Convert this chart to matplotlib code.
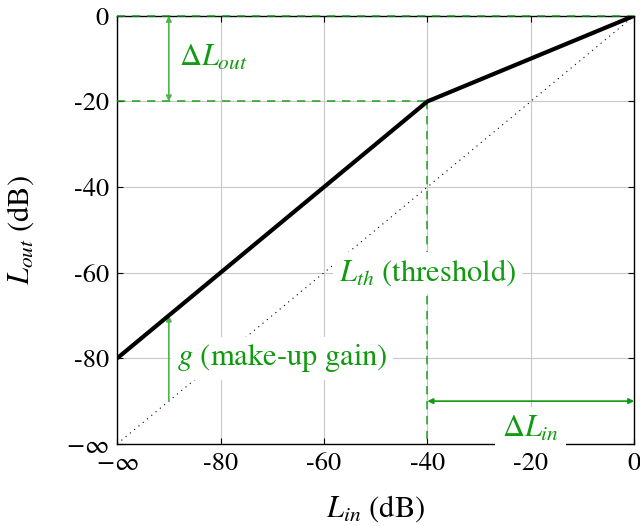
import matplotlib.pyplot as plt
import numpy as np

# transfer curve of the compressor (dB)
l_in = [-100, -40, 0]
l_out = [-80, -20, 0]
diag = [-100, 0]

threshold = -40
thr_out = -20
gain_at = -90          # x where the make-up gain arrow sits
delta_in_y = -90       # y of the ΔL_in arrow

xticks = [-100, -80, -60, -40, -20, 0]
xticklabels = [r'$-\infty$', '-80', '-60', '-40', '-20', '0']
yticks = [-100, -80, -60, -40, -20, 0]
yticklabels = [r'$-\infty$', '-80', '-60', '-40', '-20', '0']

green = '#109a10'
arrow_green = '#4cb84c'

plt.rcParams['font.family'] = ['STIXGeneral', 'DejaVu Serif']
plt.rcParams['mathtext.fontset'] = 'stix'

fig = plt.figure(figsize=(6.4, 5.26), dpi=100)
ax = fig.add_axes([0.183, 0.156, 0.808, 0.814])

ax.set_xlim(-100, 0)
ax.set_ylim(-100, 0)
ax.grid(color='#c8c8c8', linewidth=0.8)
ax.set_axisbelow(True)

# identity line and the curve
ax.plot(diag, diag, color='black', linestyle=(0, (1, 4)), linewidth=0.8)
ax.plot(l_in, l_out, color='black', linewidth=3, solid_capstyle='butt', zorder=4)

# dashed helper lines
dash = dict(color=green, linestyle=(0, (5, 4)), linewidth=1.2, alpha=0.85, zorder=3)
ax.plot([-100, 0], [0, 0], clip_on=False, **dash)
ax.plot([-100, threshold], [thr_out, thr_out], **dash)
ax.plot([threshold, threshold], [thr_out, -100], **dash)

# arrows
ax.annotate('', xy=(gain_at, thr_out), xytext=(gain_at, 0),
            arrowprops=dict(arrowstyle='<|-|>', color=arrow_green, lw=1.2,
                            mutation_scale=8, shrinkA=0, shrinkB=0))
ax.annotate('', xy=(gain_at, l_out[0] + (gain_at - l_in[0])), xytext=(gain_at, gain_at),
            arrowprops=dict(arrowstyle='-|>', color=arrow_green, lw=1.2,
                            mutation_scale=8, shrinkA=0, shrinkB=0))
ax.annotate('', xy=(threshold, delta_in_y), xytext=(0, delta_in_y),
            arrowprops=dict(arrowstyle='<|-|>', color=green, lw=1.2,
                            mutation_scale=8, shrinkA=0, shrinkB=0), annotation_clip=False)

# labels
fs = 22
box = dict(facecolor='white', edgecolor='none', pad=4)
ax.text(-88, -10, r'$\Delta L_{out}$', color=green, fontsize=fs,
        ha='left', va='center')
ax.text(threshold, -60, r'$L_{th}$ (threshold)', color=green, fontsize=fs,
        ha='center', va='center', bbox=box, zorder=6)
ax.text(-88.5, -80, r'$g$ (make-up gain)', color=green, fontsize=fs,
        ha='left', va='center', bbox=box, zorder=6)
ax.text(-20, -96.5, r'$\Delta L_{in}$', color=green, fontsize=fs,
        ha='center', va='center', bbox=dict(facecolor='white', edgecolor='none', pad=5),
        zorder=6, clip_on=False)

ax.set_xticks(xticks)
ax.set_xticklabels(xticklabels, fontsize=19)
ax.set_yticks(yticks)
ax.set_yticklabels(yticklabels, fontsize=19)
ax.tick_params(direction='in', length=4, top=True, right=True, pad=6)

ax.set_xlabel(r'$L_{in}$ (dB)', fontsize=fs, labelpad=12)
ax.set_ylabel(r'$L_{out}$ (dB)', fontsize=fs, labelpad=22)

for s in ax.spines.values():
    s.set_linewidth(1.0)

fig.savefig('out.png', dpi=100)
